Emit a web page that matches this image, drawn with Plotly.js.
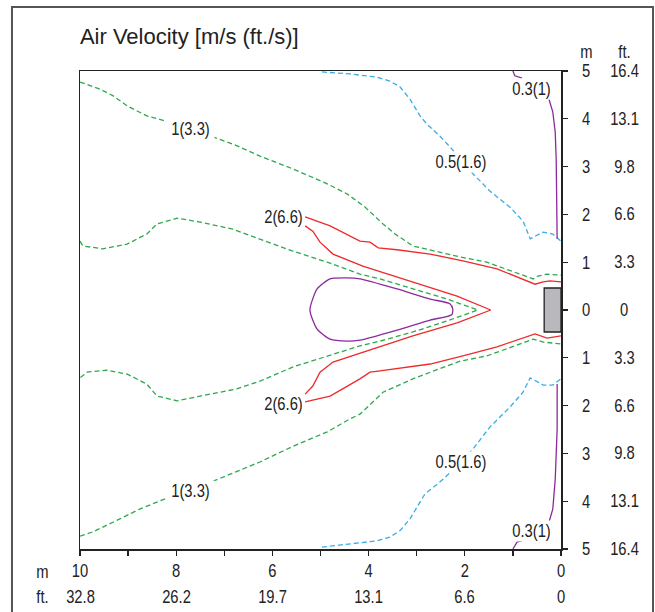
<!DOCTYPE html>
<html>
<head>
<meta charset="utf-8">
<script src="https://cdn.plot.ly/plotly-3.0.1.min.js"></script>
<style>html,body{margin:0;padding:0;background:#fff;}#chart{width:655px;height:612px;}</style>
</head>
<body>
<div id="chart"></div>
<script>
// ---- Data (metres; x = distance from outlet, y = lateral offset) ----
const xTickVals = [10, 9, 8, 7, 6, 5, 4, 3, 2, 1, 0];
const xTickM    = ['10', '', '8', '', '6', '', '4', '', '2', '', '0'];
const xFtVals   = [10, 8, 6, 4, 2, 0];
const xFtText   = ['32.8', '26.2', '19.7', '13.1', '6.6', '0'];
const yTickVals = [5, 4, 3, 2, 1, 0, -1, -2, -3, -4, -5];
const yTickM    = ['5', '4', '3', '2', '1', '0', '1', '2', '3', '4', '5'];
const yTickFt   = ['16.4', '13.1', '9.8', '6.6', '3.3', '0', '3.3', '6.6', '9.8', '13.1', '16.4'];

// 1 m/s (3.3 ft/s) contour – outer upper branch
const v1UpperX = [10.0, 9.58, 9.31, 9.02, 8.61, 8.13, 7.71, 7.30, 6.82, 6.26, 5.57, 4.86, 4.45, 4.07, 3.70, 3.45, 3.08, 2.10, 1.54, 0.58, 0.48, 0.29, 0.0];
const v1UpperY = [4.77, 4.62, 4.48, 4.27, 4.06, 3.93, 3.79, 3.64, 3.47, 3.22, 2.95, 2.64, 2.43, 2.15, 1.80, 1.59, 1.34, 1.11, 1.00, 0.65, 0.71, 0.75, 0.73];
// 1 m/s contour – inner branch (left edge -> tip -> left edge)
const v1InnerX = [10.0, 9.94, 9.52, 9.02, 8.61, 8.40, 7.98, 7.50, 6.82, 6.26, 5.57, 4.86, 4.18, 3.76, 3.08, 2.37, 1.73, 2.37, 3.08, 3.76, 4.18, 4.86, 5.57, 6.26, 6.74, 7.50, 7.98, 8.40, 8.61, 9.02, 9.44, 9.85, 10.0];
const v1InnerY = [1.44, 1.34, 1.28, 1.38, 1.59, 1.80, 1.92, 1.84, 1.69, 1.49, 1.23, 1.00, 0.75, 0.65, 0.44, 0.23, 0.0, -0.23, -0.46, -0.65, -0.75, -0.96, -1.19, -1.49, -1.65, -1.80, -1.90, -1.80, -1.55, -1.34, -1.26, -1.30, -1.42];
// 1 m/s contour – outer lower branch
const v1LowerX = [10.0, 9.73, 9.17, 8.75, 8.13, 7.71, 7.23, 6.26, 5.57, 4.86, 4.39, 4.18, 3.70, 3.08, 2.37, 2.10, 1.54, 0.58, 0.37, 0.0];
const v1LowerY = [-4.73, -4.64, -4.37, -4.16, -3.91, -3.79, -3.58, -3.18, -2.85, -2.55, -2.28, -2.18, -1.72, -1.44, -1.17, -1.07, -0.96, -0.61, -0.67, -0.71];

// 2 m/s (6.6 ft/s) contour
const v2UpperX = [5.32, 4.80, 4.18, 3.97, 3.80, 3.41, 2.72, 2.04, 1.33, 0.54, 0.37, 0.23, 0.0];
const v2UpperY = [1.95, 1.76, 1.44, 1.42, 1.30, 1.26, 1.17, 1.03, 0.86, 0.54, 0.59, 0.61, 0.59];
const v2InnerX = [5.32, 5.16, 5.01, 4.74, 4.12, 3.08, 2.16, 1.46, 2.16, 3.08, 4.12, 4.74, 5.01, 5.16, 5.32];
const v2InnerY = [1.76, 1.65, 1.42, 1.17, 0.92, 0.59, 0.29, 0.0, -0.27, -0.54, -0.88, -1.09, -1.30, -1.59, -1.76];
const v2LowerX = [5.32, 4.80, 4.18, 3.97, 3.80, 3.41, 2.72, 2.04, 1.33, 0.54, 0.29, 0.0];
const v2LowerY = [-1.92, -1.80, -1.44, -1.30, -1.28, -1.23, -1.13, -0.96, -0.77, -0.50, -0.59, -0.54];

// core (purple closed loop)
const coreX = [5.22, 5.07, 4.80, 4.45, 4.18, 3.41, 2.72, 2.31, 2.25, 2.27, 2.72, 3.41, 4.18, 4.45, 4.80, 5.07, 5.22];
const coreY = [0.0, 0.44, 0.65, 0.67, 0.65, 0.44, 0.23, 0.13, 0.02, -0.10, -0.21, -0.42, -0.63, -0.65, -0.61, -0.40, 0.0];

// 0.5 m/s (1.6 ft/s) contour
const v05UpperX = [4.97, 4.39, 3.83, 3.56, 3.35, 3.14, 2.93, 2.79, 2.52, 2.27, 1.83, 1.48, 1.06, 0.79, 0.64, 0.37, 0.17, 0.0];
const v05UpperY = [4.98, 4.94, 4.87, 4.79, 4.67, 4.41, 4.06, 3.89, 3.64, 3.37, 2.85, 2.49, 2.15, 1.86, 1.49, 1.63, 1.59, 1.44];
const v05LowerX = [4.97, 4.39, 3.83, 3.56, 3.35, 3.14, 2.99, 2.83, 2.52, 2.27, 1.83, 1.48, 1.06, 0.79, 0.64, 0.37, 0.17, 0.0];
const v05LowerY = [-4.96, -4.90, -4.83, -4.75, -4.62, -4.37, -4.12, -3.85, -3.60, -3.37, -2.91, -2.45, -2.03, -1.72, -1.42, -1.57, -1.57, -1.44];

// 0.3 m/s (1 ft/s) contour (null = gap at label)
const v03UpperX = [1.00, 0.96, 0.81, null, 0.25, 0.17, 0.12, 0.10, 0.08];
const v03UpperY = [5.0, 4.90, 4.85, null, 4.41, 4.14, 3.72, 3.16, 1.49];
const v03LowerX = [1.00, 0.91, 0.81, null, 0.25, 0.17, 0.12, 0.08, 0.08];
const v03LowerY = [-5.0, -4.85, -4.83, null, -4.44, -4.16, -3.54, -2.49, -1.55];

// outlet (grey block)
const outletX = [0, 0.35];
const outletY = [-0.46, 0.46];

// contour labels (centre positions)
const labelText = ['1(3.3)', '1(3.3)', '2(6.6)', '2(6.6)', '0.5(1.6)', '0.5(1.6)', '0.3(1)', '0.3(1)'];
const labelX    = [7.71, 7.71, 5.76, 5.76, 2.08, 2.08, 0.62, 0.62];
const labelY    = [3.79, -3.79, 1.95, -1.97, 3.10, -3.18, 4.62, -4.62];

// ---- Styling ----
const GREEN = '#2fa84f', RED = '#ee2a2a', PURPLE = '#8b2a9c', BLUE = '#37ade4';
const FONT = '"Liberation Sans", Arial, sans-serif';
const FS = 18;        // label font size
const SQUEEZE = 0.82; // horizontal condensing (narrow type look)
const dashed = '5px,3px';

function line(x, y, color, dash) {
  return {x: x, y: y, type: 'scatter', mode: 'lines', hoverinfo: 'skip',
          connectgaps: false,
          line: {color: color, width: 1.3, dash: dash || 'solid'}};
}

const traces = [
  line(v1UpperX, v1UpperY, GREEN, dashed),
  line(v1InnerX, v1InnerY, GREEN, dashed),
  line(v1LowerX, v1LowerY, GREEN, dashed),
  line(v2UpperX, v2UpperY, RED),
  line(v2InnerX, v2InnerY, RED),
  line(v2LowerX, v2LowerY, RED),
  Object.assign(line(coreX, coreY, PURPLE), {line: {color: PURPLE, width: 1.3, shape: 'spline', smoothing: 0.6}}),
  line(v05UpperX, v05UpperY, BLUE, dashed),
  line(v05LowerX, v05LowerY, BLUE, dashed),
  line(v03UpperX, v03UpperY, PURPLE),
  line(v03LowerX, v03LowerY, PURPLE)
];

const tf = {family: FONT, size: FS, color: '#222'};
const annotations = [];
labelText.forEach(function (t, i) {
  const isRed = t.indexOf('2(') === 0;
  annotations.push({
    x: labelX[i], y: labelY[i], xref: 'x', yref: 'y', text: t, showarrow: false,
    xanchor: 'center', yanchor: 'middle',
    bgcolor: isRed ? 'rgba(0,0,0,0)' : '#ffffff', borderpad: 0, font: tf
  });
});
xFtVals.forEach(function (v, i) {
  annotations.push({x: v, y: -0.1004, xref: 'x', yref: 'paper', text: xFtText[i], showarrow: false,
    xanchor: 'center', yanchor: 'middle', font: tf});
});
yTickVals.forEach(function (v, i) {
  annotations.push({x: 1.131, y: v, xref: 'paper', yref: 'y', text: yTickFt[i], showarrow: false,
    xanchor: 'center', yanchor: 'middle', font: tf});
});
// unit headers
annotations.push({x: -0.079, y: -0.048, xref: 'paper', yref: 'paper', text: 'm', showarrow: false, xanchor: 'center', yanchor: 'middle', font: tf});
annotations.push({x: -0.079, y: -0.1004, xref: 'paper', yref: 'paper', text: 'ft.', showarrow: false, xanchor: 'center', yanchor: 'middle', font: tf});
annotations.push({x: 1.052, y: 1.0397, xref: 'paper', yref: 'paper', text: 'm', showarrow: false, xanchor: 'center', yanchor: 'middle', font: tf});
annotations.push({x: 1.131, y: 1.0397, xref: 'paper', yref: 'paper', text: 'ft.', showarrow: false, xanchor: 'center', yanchor: 'middle', font: tf});

const shapes = [
  {type: 'rect', xref: 'x', yref: 'y', x0: outletX[0], x1: outletX[1], y0: outletY[0], y1: outletY[1],
   fillcolor: '#b9b9bd', line: {color: '#222', width: 1.3}, layer: 'above'},
  {type: 'rect', xref: 'paper', yref: 'paper', x0: -0.1414, x1: 1.1913, y0: -0.2, y1: 1.134,
   fillcolor: 'rgba(0,0,0,0)', line: {color: '#555', width: 2}, layer: 'below'}
];

const layout = {
  width: 655, height: 612,
  margin: {l: 80, r: 94, t: 71, b: 63},
  paper_bgcolor: '#ffffff', plot_bgcolor: '#ffffff',
  showlegend: false,
  title: {text: 'Air Velocity [m/s (ft./s)]', xref: 'container', yref: 'container',
          x: 0.122, xanchor: 'left', y: 0.94, yanchor: 'middle',
          font: {family: FONT, size: 22, color: '#222'}},
  xaxis: {range: [10, 0], tickvals: xTickVals, ticktext: xTickM, ticks: 'outside', ticklen: 5,
          tickcolor: '#222', tickwidth: 1.3, showgrid: false, zeroline: false,
          showline: true, linecolor: '#222', linewidth: 1.5, mirror: true,
          tickfont: tf, fixedrange: true},
  yaxis: {range: [-5, 5], side: 'right', tickvals: yTickVals, ticktext: yTickM, ticks: 'outside', ticklen: 5,
          tickcolor: '#222', tickwidth: 1.3, showgrid: false, zeroline: false,
          showline: true, linecolor: '#222', linewidth: 1.5, mirror: true,
          ticklabelstandoff: 11,
          tickfont: tf, fixedrange: true},
  annotations: annotations,
  shapes: shapes
};

// give tick and annotation text a condensed (narrow) look, keeping each label's anchor in place
function condense(root) {
  root.querySelectorAll('.xtick text, .ytick text, .annotation-text').forEach(function (t) {
    const x = parseFloat(t.getAttribute('x') || '0');
    const tr = t.getAttribute('transform') || '';
    t.setAttribute('transform', tr + ' translate(' + x + ',0) scale(' + SQUEEZE + ',1) translate(' + (-x) + ',0)');
  });
}

Plotly.newPlot('chart', traces, layout, {staticPlot: true, displayModeBar: false}).then(function (gd) {
  condense(gd);
});
</script>
</body>
</html>
